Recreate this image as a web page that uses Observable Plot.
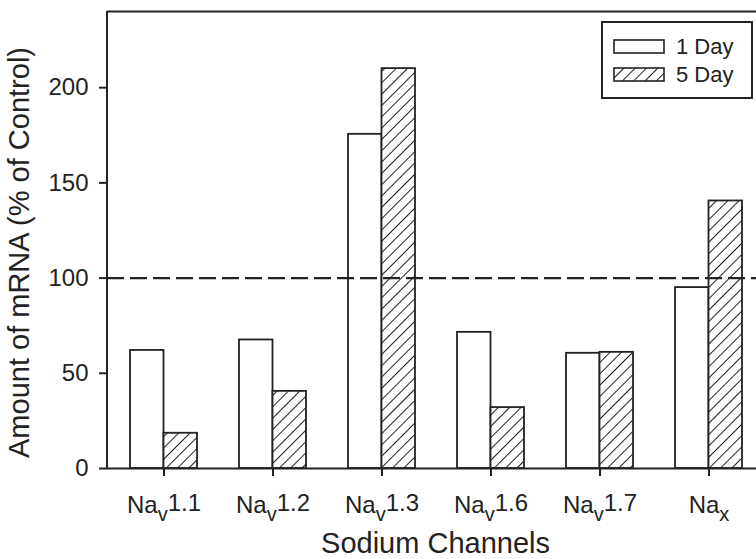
<!DOCTYPE html>
<html>
<head>
<meta charset="utf-8">
<script src="https://cdn.jsdelivr.net/npm/d3@7"></script>
<script src="https://cdn.jsdelivr.net/npm/@observablehq/plot@0.6"></script>
<style>
  html, body { margin: 0; padding: 0; background: #fff; }
  #wrap { position: relative; width: 756px; height: 559px; overflow: hidden; font-family: "Liberation Sans", Arial, sans-serif; color: #222; }
  #legend { position: absolute; left: 601px; top: 21px; width: 148px; height: 74px; border: 2px solid #222; background: #fff; }
  .lg-row { position: absolute; left: 10px; display: flex; align-items: center; font-size: 22px; line-height: 22px; height: 22px; }
  .lg-row svg { margin-right: 11px; }
</style>
</head>
<body>
<div id="wrap"><div id="legend"></div></div>
<script>
// ---- data ----
const channelBase = ["Na", "Na", "Na", "Na", "Na", "Na"];
const channelSub = ["v", "v", "v", "v", "v", "x"];
const channelNum = ["1.1", "1.2", "1.3", "1.6", "1.7", ""];
const day1 = [62, 67.5, 175.5, 71.5, 60.5, 95];
const day5 = [18.5, 40.5, 210, 32, 61, 140.5];
const yTicks = [0, 50, 100, 150, 200];
const yMax = 240;
const controlLevel = 100;
const legendLabels = ["1 Day", "5 Day"];
const xTitle = "Sodium Channels";
const yTitle = "Amount of mRNA (% of Control)";

const channels = channelBase.map((b, i) => b + channelSub[i] + channelNum[i]);
const rows = channels.map((c, i) => ({channel: c, day1: day1[i], day5: day5[i], i}));

const ink = "#222";
const font = '"Liberation Sans", Arial, sans-serif';
const plot = Plot.plot({
  width: 756,
  height: 559,
  marginLeft: 107,
  marginRight: 0,
  marginTop: 11,
  marginBottom: 91,
  style: {fontFamily: font, fontSize: "24px", color: ink, background: "transparent", overflow: "visible"},
  x: {domain: channels, range: [107, 764], paddingInner: 0.388, paddingOuter: 0.194},
  y: {domain: [0, yMax]},
  marks: [
    Plot.barY(rows, {x: "channel", y: "day1", fill: "white", stroke: ink, strokeWidth: 1.8, insetRight: 33.5}),
    Plot.barY(rows, {x: "channel", y: "day5", fill: "url(#hatch)", stroke: ink, strokeWidth: 1.8, insetLeft: 33.5}),
    Plot.ruleY([controlLevel], {stroke: ink, strokeWidth: 2.2, strokeDasharray: "17,6"}),
    Plot.ruleY([yMax], {stroke: ink, strokeWidth: 2}),
    Plot.ruleY([0], {stroke: ink, strokeWidth: 2}),
    Plot.axisY({ticks: yTicks, tickSize: 8, tickPadding: 11, strokeWidth: 2, label: null}),
    Plot.axisX({tickSize: 8, tickPadding: 19, strokeWidth: 2, label: null}),
    Plot.text([yTitle], {text: (d) => d, frameAnchor: "left", textAnchor: "middle", lineAnchor: "middle", rotate: -90, dx: -88, dy: 12.5, fontSize: 29, fill: ink}),
    Plot.text([xTitle], {text: (d) => d, frameAnchor: "bottom", textAnchor: "middle", lineAnchor: "middle", dx: 3.5, dy: 75.7, fontSize: 29, fill: ink})
  ]
});

// tick label font sizes
plot.querySelectorAll('[aria-label="x-axis tick label"] text, [aria-label="y-axis tick label"] text').forEach((t) => { t.style.fontSize = "24px"; });

// hatch pattern
const ns = "http://www.w3.org/2000/svg";
function addHatch(svg, id) {
  const defs = document.createElementNS(ns, "defs");
  const pat = document.createElementNS(ns, "pattern");
  pat.setAttribute("id", id);
  pat.setAttribute("patternUnits", "userSpaceOnUse");
  pat.setAttribute("width", "8");
  pat.setAttribute("height", "8");
  pat.setAttribute("patternTransform", "rotate(45)");
  const bg = document.createElementNS(ns, "rect");
  bg.setAttribute("width", "8"); bg.setAttribute("height", "8"); bg.setAttribute("fill", "white");
  const ln = document.createElementNS(ns, "line");
  ln.setAttribute("x1", "0"); ln.setAttribute("y1", "0"); ln.setAttribute("x2", "0"); ln.setAttribute("y2", "8");
  ln.setAttribute("stroke", ink); ln.setAttribute("stroke-width", "2");
  pat.appendChild(bg); pat.appendChild(ln); defs.appendChild(pat);
  svg.insertBefore(defs, svg.firstChild);
}
addHatch(plot, "hatch");

// left axis line
const frameLine = document.createElementNS(ns, "line");
frameLine.setAttribute("x1", 107); frameLine.setAttribute("x2", 107);
frameLine.setAttribute("y1", 11); frameLine.setAttribute("y2", 468);
frameLine.setAttribute("stroke", ink); frameLine.setAttribute("stroke-width", 2);
plot.appendChild(frameLine);

// subscripts in x tick labels
plot.querySelectorAll('[aria-label="x-axis tick label"] text').forEach((t) => {
  const label = t.textContent;
  const i = channels.indexOf(label);
  if (i < 0) return;
  t.textContent = "";
  const a = document.createElementNS(ns, "tspan"); a.textContent = channelBase[i];
  const b = document.createElementNS(ns, "tspan"); b.textContent = channelSub[i];
  b.setAttribute("dy", "0.4em"); b.setAttribute("font-size", "20px");
  t.appendChild(a); t.appendChild(b);
  if (channelNum[i]) {
    const c = document.createElementNS(ns, "tspan"); c.textContent = channelNum[i];
    c.setAttribute("dy", "-0.4em");
    t.appendChild(c);
  }
});

document.getElementById("wrap").insertBefore(plot, document.getElementById("legend"));

// legend
const legend = document.getElementById("legend");
legendLabels.forEach((lab, k) => {
  const row = document.createElement("div");
  row.className = "lg-row";
  row.style.top = (k === 0 ? 12.5 : 40.5) + "px";
  const sv = document.createElementNS(ns, "svg");
  sv.setAttribute("width", 52); sv.setAttribute("height", 15);
  if (k === 1) addHatch(sv, "hatchLegend");
  const r = document.createElementNS(ns, "rect");
  r.setAttribute("x", 1); r.setAttribute("y", 1); r.setAttribute("width", 50); r.setAttribute("height", 13);
  r.setAttribute("fill", k === 0 ? "white" : "url(#hatchLegend)");
  r.setAttribute("stroke", ink); r.setAttribute("stroke-width", 1.6);
  sv.appendChild(r);
  const span = document.createElement("span");
  span.textContent = lab;
  row.appendChild(sv); row.appendChild(span);
  legend.appendChild(row);
});
</script>
</body>
</html>
